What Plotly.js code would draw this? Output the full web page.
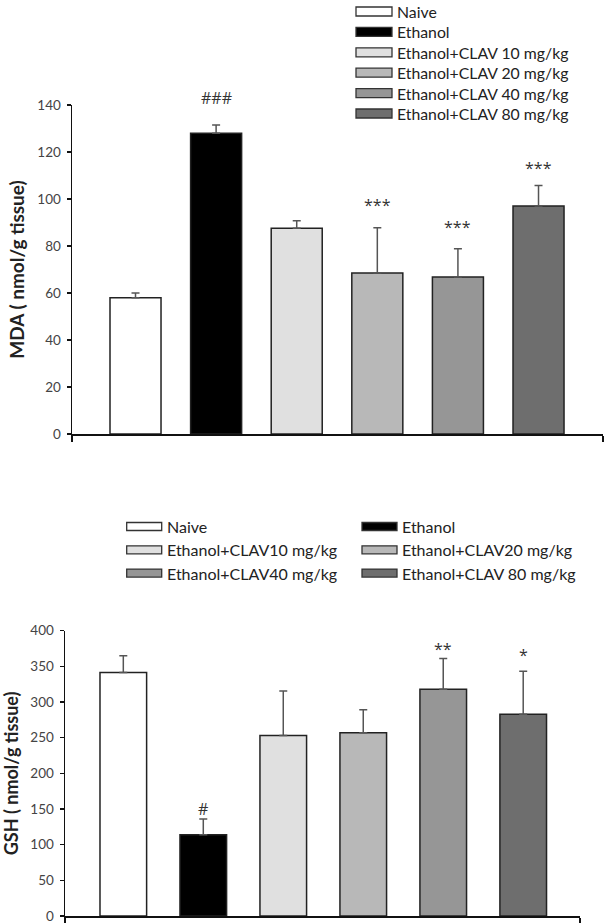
<!DOCTYPE html>
<html>
<head>
<meta charset="utf-8">
<script src="https://cdn.plot.ly/plotly-3.0.1.min.js"></script>
<style>html,body{margin:0;padding:0;background:#fff;}#chart{width:605px;height:923px;}</style>
</head>
<body>
<div id="chart"></div>
<script>
// ---- data ----
const groups = ["Naive", "Ethanol", "CLAV10", "CLAV20", "CLAV40", "CLAV80"];
const groupColors = ["#ffffff", "#000000", "#e0e0e0", "#b8b8b8", "#969696", "#6e6e6e"];

const mdaValues = [58, 128, 87.5, 68.5, 66.8, 97];
const mdaErrors = [2, 3.5, 3.2, 19.3, 12, 8.7];
const mdaSigLabels = ["", "###", "", "***", "***", "***"];
const mdaSigY = [null, 143, null, 97.4, 88, 113];
const mdaLegendLabels = ["Naive", "Ethanol", "Ethanol+CLAV 10 mg/kg", "Ethanol+CLAV 20 mg/kg", "Ethanol+CLAV 40 mg/kg", "Ethanol+CLAV 80 mg/kg"];

const gshValues = [341.5, 114, 253, 257, 318, 283];
const gshErrors = [23.5, 22, 62.5, 32, 43, 60];
const gshSigLabels = ["", "#", "", "", "**", "*"];
const gshSigY = [null, 150, null, null, 374, 366];
const gshLegendLabels = ["Naive", "Ethanol", "Ethanol+CLAV10 mg/kg", "Ethanol+CLAV20 mg/kg", "Ethanol+CLAV40 mg/kg", "Ethanol+CLAV 80 mg/kg"];

const mdaTicks = [0, 20, 40, 60, 80, 100, 120, 140];
const gshTicks = [0, 50, 100, 150, 200, 250, 300, 350, 400];
const mdaMax = 140, gshMax = 400;

// ---- layout helpers ----
const W = 605, H = 923, MB = 7;
const PH = H - MB;
const px = x => x / W;
const py = y => 1 - y / PH;       // plot-area fraction (margin bottom MB)
const FONT = "Lato, 'Open Sans', sans-serif";
const SIGFONT = "'Open Sans', sans-serif";
const idx = groups.map((g, i) => i);

const traces = [
  {
    type: "bar", x: idx, y: mdaValues, xaxis: "x", yaxis: "y",
    width: 0.633,
    marker: {color: groupColors, line: {color: "#222", width: 1.5}},
    error_y: {type: "data", array: mdaErrors, arrayminus: mdaErrors.map(() => 0), symmetric: false,
              color: "#555", thickness: 1.5, width: 4},
    showlegend: false, hoverinfo: "skip"
  },
  {
    type: "bar", x: idx, y: gshValues, xaxis: "x2", yaxis: "y2",
    width: 0.583,
    marker: {color: groupColors, line: {color: "#222", width: 1.5}},
    error_y: {type: "data", array: gshErrors, arrayminus: gshErrors.map(() => 0), symmetric: false,
              color: "#555", thickness: 1.5, width: 4},
    showlegend: false, hoverinfo: "skip"
  }
];

const xTop = [-0.788, 5.8];
const xBot = [-0.729, 5.71];

const yAxisCommon = {
  showline: true, linecolor: "#111", linewidth: 1.5,
  ticks: "outside", ticklen: 4, tickwidth: 1.2, tickcolor: "#111",
  showgrid: false, zeroline: false,
  tickfont: {family: FONT, size: 13.5, color: "#444"},
  ticklabelstandoff: 3, ticklabeloverflow: "allow"
};
const xAxisCommon = {
  showline: true, linecolor: "#111", linewidth: 1.5,
  ticks: "outside", ticklen: 6, tickwidth: 1.5, tickcolor: "#111",
  showticklabels: false, showgrid: false, zeroline: false, fixedrange: true
};

const annotations = [];
const shapes = [];

// significance marks
groups.forEach((g, i) => {
  if (mdaSigLabels[i]) annotations.push({
    xref: "x", yref: "y domain", x: i, y: mdaSigY[i] / mdaMax, text: mdaSigLabels[i], showarrow: false,
    font: {family: SIGFONT, size: 16, color: "#333"}, yanchor: "middle"
  });
  if (gshSigLabels[i]) annotations.push({
    xref: "x2", yref: "y2 domain", x: i, y: gshSigY[i] / gshMax, text: gshSigLabels[i], showarrow: false,
    font: {family: SIGFONT, size: 16, color: "#333"}, yanchor: "middle"
  });
});

// top legend (single column)
const topLegX0 = 356, topLegX1 = 392, topLegY0 = 11.5, topLegDY = 20.4, boxH = 9;
mdaLegendLabels.forEach((lab, i) => {
  const cy = topLegY0 + i * topLegDY;
  shapes.push({type: "rect", xref: "paper", yref: "paper",
    x0: px(topLegX0), x1: px(topLegX1), y0: py(cy - boxH / 2), y1: py(cy + boxH / 2),
    fillcolor: groupColors[i], line: {color: "#333", width: 1.3}});
  annotations.push({xref: "paper", yref: "paper", x: px(395), y: py(cy), xanchor: "left", yanchor: "middle",
    text: lab, showarrow: false, font: {family: FONT, size: 15.8, color: "#222"}});
});

// bottom legend (two columns, three rows)
const botColX = [126.7, 362], botLegY0 = 526.5, botLegDY = 23.3, botBoxW = 35, botBoxH = 8;
gshLegendLabels.forEach((lab, i) => {
  const col = i % 2, row = Math.floor(i / 2);
  const cy = botLegY0 + row * botLegDY;
  const x0 = botColX[col];
  shapes.push({type: "rect", xref: "paper", yref: "paper",
    x0: px(x0), x1: px(x0 + botBoxW), y0: py(cy - botBoxH / 2), y1: py(cy + botBoxH / 2),
    fillcolor: groupColors[i], line: {color: "#333", width: 1.3}});
  annotations.push({xref: "paper", yref: "paper", x: px(x0 + botBoxW + 3), y: py(cy), xanchor: "left", yanchor: "middle",
    text: lab, showarrow: false, font: {family: FONT, size: 16, color: "#222"}});
});

const layout = {
  width: W, height: H,
  margin: {l: 0, r: 0, t: 0, b: MB, pad: 0},
  paper_bgcolor: "#fff", plot_bgcolor: "rgba(0,0,0,0)",
  showlegend: false,
  font: {family: FONT},
  xaxis: Object.assign({}, xAxisCommon, {domain: [px(72), px(603)], range: xTop, anchor: "y",
    tickmode: "array", tickvals: xTop}),
  yaxis: Object.assign({}, yAxisCommon, {domain: [py(434), py(105)], range: [0, mdaMax], anchor: "x",
    tickmode: "array", tickvals: mdaTicks,
    title: {text: "<b>MDA ( nmol/g tissue)</b>", font: {family: FONT, size: 19, color: "#222"}, standoff: 7}}),
  xaxis2: Object.assign({}, xAxisCommon, {domain: [px(65), px(580)], range: xBot, anchor: "y2",
    tickmode: "array", tickvals: xBot}),
  yaxis2: Object.assign({}, yAxisCommon, {domain: [0, py(630.7)], range: [0, gshMax], anchor: "x2",
    tickmode: "array", tickvals: gshTicks,
    title: {text: "<b>GSH ( nmol/g tissue)</b>", font: {family: FONT, size: 18, color: "#222"}, standoff: 7}}),
  annotations: annotations,
  shapes: shapes
};

Plotly.newPlot("chart", traces, layout, {staticPlot: true, displayModeBar: false});
</script>
</body>
</html>
